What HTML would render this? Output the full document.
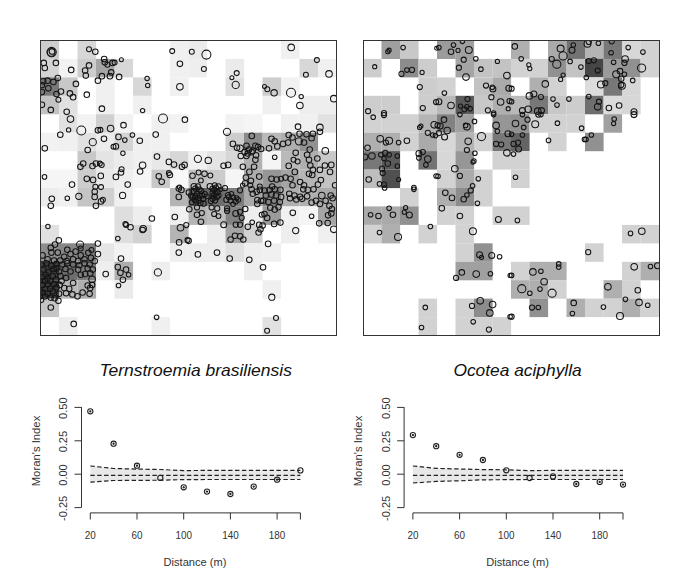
<!DOCTYPE html>
<html><head><meta charset="utf-8"><style>
html,body{margin:0;padding:0;background:#fff;width:700px;height:582px;overflow:hidden}
svg{display:block}
</style></head><body><svg width="700" height="582" viewBox="0 0 700 582"><defs><clipPath id="cl"><rect x="40.5" y="40.5" width="296" height="295"/></clipPath><clipPath id="cr"><rect x="363.5" y="40.5" width="296" height="295"/></clipPath></defs><rect width="700" height="582" fill="#fff"/><g><rect x="40.5" y="40.5" width="18.6" height="18.5" fill="rgb(205,205,205)"/><rect x="77.5" y="40.5" width="18.6" height="18.5" fill="rgb(215,215,215)"/><rect x="170" y="40.5" width="18.6" height="18.5" fill="rgb(240,240,240)"/><rect x="188.5" y="40.5" width="18.6" height="18.5" fill="rgb(235,235,235)"/><rect x="281" y="40.5" width="18.6" height="18.5" fill="rgb(240,240,240)"/><rect x="40.5" y="58.9" width="18.6" height="18.5" fill="rgb(212,212,212)"/><rect x="59" y="58.9" width="18.6" height="18.5" fill="rgb(242,242,242)"/><rect x="77.5" y="58.9" width="18.6" height="18.5" fill="rgb(205,205,205)"/><rect x="96" y="58.9" width="18.6" height="18.5" fill="rgb(165,165,165)"/><rect x="114.5" y="58.9" width="18.6" height="18.5" fill="rgb(215,215,215)"/><rect x="170" y="58.9" width="18.6" height="18.5" fill="rgb(240,240,240)"/><rect x="188.5" y="58.9" width="18.6" height="18.5" fill="rgb(238,238,238)"/><rect x="225.5" y="58.9" width="18.6" height="18.5" fill="rgb(235,235,235)"/><rect x="299.5" y="58.9" width="18.6" height="18.5" fill="rgb(215,215,215)"/><rect x="318" y="58.9" width="18.6" height="18.5" fill="rgb(240,240,240)"/><rect x="40.5" y="77.4" width="18.6" height="18.5" fill="rgb(120,120,120)"/><rect x="59" y="77.4" width="18.6" height="18.5" fill="rgb(200,200,200)"/><rect x="96" y="77.4" width="18.6" height="18.5" fill="rgb(240,240,240)"/><rect x="133" y="77.4" width="18.6" height="18.5" fill="rgb(215,215,215)"/><rect x="170" y="77.4" width="18.6" height="18.5" fill="rgb(240,240,240)"/><rect x="225.5" y="77.4" width="18.6" height="18.5" fill="rgb(225,225,225)"/><rect x="262.5" y="77.4" width="18.6" height="18.5" fill="rgb(205,205,205)"/><rect x="281" y="77.4" width="18.6" height="18.5" fill="rgb(242,242,242)"/><rect x="40.5" y="95.8" width="18.6" height="18.5" fill="rgb(195,195,195)"/><rect x="59" y="95.8" width="18.6" height="18.5" fill="rgb(225,225,225)"/><rect x="96" y="95.8" width="18.6" height="18.5" fill="rgb(240,240,240)"/><rect x="133" y="95.8" width="18.6" height="18.5" fill="rgb(240,240,240)"/><rect x="262.5" y="95.8" width="18.6" height="18.5" fill="rgb(240,240,240)"/><rect x="299.5" y="95.8" width="18.6" height="18.5" fill="rgb(238,238,238)"/><rect x="318" y="95.8" width="18.6" height="18.5" fill="rgb(238,238,238)"/><rect x="59" y="114.2" width="18.6" height="18.5" fill="rgb(225,225,225)"/><rect x="77.5" y="114.2" width="18.6" height="18.5" fill="rgb(242,242,242)"/><rect x="96" y="114.2" width="18.6" height="18.5" fill="rgb(208,208,208)"/><rect x="114.5" y="114.2" width="18.6" height="18.5" fill="rgb(242,242,242)"/><rect x="151.5" y="114.2" width="18.6" height="18.5" fill="rgb(240,240,240)"/><rect x="170" y="114.2" width="18.6" height="18.5" fill="rgb(242,242,242)"/><rect x="225.5" y="114.2" width="18.6" height="18.5" fill="rgb(242,242,242)"/><rect x="244" y="114.2" width="18.6" height="18.5" fill="rgb(245,245,245)"/><rect x="281" y="114.2" width="18.6" height="18.5" fill="rgb(240,240,240)"/><rect x="299.5" y="114.2" width="18.6" height="18.5" fill="rgb(240,240,240)"/><rect x="318" y="114.2" width="18.6" height="18.5" fill="rgb(225,225,225)"/><rect x="40.5" y="132.7" width="18.6" height="18.5" fill="rgb(242,242,242)"/><rect x="59" y="132.7" width="18.6" height="18.5" fill="rgb(240,240,240)"/><rect x="77.5" y="132.7" width="18.6" height="18.5" fill="rgb(225,225,225)"/><rect x="96" y="132.7" width="18.6" height="18.5" fill="rgb(236,236,236)"/><rect x="114.5" y="132.7" width="18.6" height="18.5" fill="rgb(212,212,212)"/><rect x="133" y="132.7" width="18.6" height="18.5" fill="rgb(240,240,240)"/><rect x="151.5" y="132.7" width="18.6" height="18.5" fill="rgb(240,240,240)"/><rect x="225.5" y="132.7" width="18.6" height="18.5" fill="rgb(205,205,205)"/><rect x="244" y="132.7" width="18.6" height="18.5" fill="rgb(140,140,140)"/><rect x="262.5" y="132.7" width="18.6" height="18.5" fill="rgb(185,185,185)"/><rect x="281" y="132.7" width="18.6" height="18.5" fill="rgb(175,175,175)"/><rect x="299.5" y="132.7" width="18.6" height="18.5" fill="rgb(145,145,145)"/><rect x="77.5" y="151.1" width="18.6" height="18.5" fill="rgb(200,200,200)"/><rect x="96" y="151.1" width="18.6" height="18.5" fill="rgb(228,228,228)"/><rect x="114.5" y="151.1" width="18.6" height="18.5" fill="rgb(235,235,235)"/><rect x="133" y="151.1" width="18.6" height="18.5" fill="rgb(240,240,240)"/><rect x="151.5" y="151.1" width="18.6" height="18.5" fill="rgb(232,232,232)"/><rect x="170" y="151.1" width="18.6" height="18.5" fill="rgb(215,215,215)"/><rect x="188.5" y="151.1" width="18.6" height="18.5" fill="rgb(240,240,240)"/><rect x="207" y="151.1" width="18.6" height="18.5" fill="rgb(228,228,228)"/><rect x="225.5" y="151.1" width="18.6" height="18.5" fill="rgb(215,215,215)"/><rect x="244" y="151.1" width="18.6" height="18.5" fill="rgb(178,178,178)"/><rect x="262.5" y="151.1" width="18.6" height="18.5" fill="rgb(245,245,245)"/><rect x="281" y="151.1" width="18.6" height="18.5" fill="rgb(185,185,185)"/><rect x="299.5" y="151.1" width="18.6" height="18.5" fill="rgb(175,175,175)"/><rect x="318" y="151.1" width="18.6" height="18.5" fill="rgb(200,200,200)"/><rect x="40.5" y="169.6" width="18.6" height="18.5" fill="rgb(245,245,245)"/><rect x="59" y="169.6" width="18.6" height="18.5" fill="rgb(245,245,245)"/><rect x="77.5" y="169.6" width="18.6" height="18.5" fill="rgb(205,205,205)"/><rect x="96" y="169.6" width="18.6" height="18.5" fill="rgb(232,232,232)"/><rect x="114.5" y="169.6" width="18.6" height="18.5" fill="rgb(238,238,238)"/><rect x="133" y="169.6" width="18.6" height="18.5" fill="rgb(245,245,245)"/><rect x="151.5" y="169.6" width="18.6" height="18.5" fill="rgb(200,200,200)"/><rect x="170" y="169.6" width="18.6" height="18.5" fill="rgb(248,248,248)"/><rect x="188.5" y="169.6" width="18.6" height="18.5" fill="rgb(192,192,192)"/><rect x="207" y="169.6" width="18.6" height="18.5" fill="rgb(203,203,203)"/><rect x="225.5" y="169.6" width="18.6" height="18.5" fill="rgb(245,245,245)"/><rect x="244" y="169.6" width="18.6" height="18.5" fill="rgb(172,172,172)"/><rect x="262.5" y="169.6" width="18.6" height="18.5" fill="rgb(150,150,150)"/><rect x="281" y="169.6" width="18.6" height="18.5" fill="rgb(165,165,165)"/><rect x="299.5" y="169.6" width="18.6" height="18.5" fill="rgb(182,182,182)"/><rect x="318" y="169.6" width="18.6" height="18.5" fill="rgb(195,195,195)"/><rect x="40.5" y="188" width="18.6" height="18.5" fill="rgb(236,236,236)"/><rect x="59" y="188" width="18.6" height="18.5" fill="rgb(240,240,240)"/><rect x="77.5" y="188" width="18.6" height="18.5" fill="rgb(197,197,197)"/><rect x="96" y="188" width="18.6" height="18.5" fill="rgb(207,207,207)"/><rect x="114.5" y="188" width="18.6" height="18.5" fill="rgb(240,240,240)"/><rect x="170" y="188" width="18.6" height="18.5" fill="rgb(180,180,180)"/><rect x="188.5" y="188" width="18.6" height="18.5" fill="rgb(100,100,100)"/><rect x="207" y="188" width="18.6" height="18.5" fill="rgb(110,110,110)"/><rect x="225.5" y="188" width="18.6" height="18.5" fill="rgb(125,125,125)"/><rect x="244" y="188" width="18.6" height="18.5" fill="rgb(170,170,170)"/><rect x="262.5" y="188" width="18.6" height="18.5" fill="rgb(130,130,130)"/><rect x="281" y="188" width="18.6" height="18.5" fill="rgb(175,175,175)"/><rect x="299.5" y="188" width="18.6" height="18.5" fill="rgb(177,177,177)"/><rect x="318" y="188" width="18.6" height="18.5" fill="rgb(170,170,170)"/><rect x="114.5" y="206.4" width="18.6" height="18.5" fill="rgb(222,222,222)"/><rect x="133" y="206.4" width="18.6" height="18.5" fill="rgb(238,238,238)"/><rect x="170" y="206.4" width="18.6" height="18.5" fill="rgb(240,240,240)"/><rect x="188.5" y="206.4" width="18.6" height="18.5" fill="rgb(180,180,180)"/><rect x="207" y="206.4" width="18.6" height="18.5" fill="rgb(190,190,190)"/><rect x="225.5" y="206.4" width="18.6" height="18.5" fill="rgb(130,130,130)"/><rect x="244" y="206.4" width="18.6" height="18.5" fill="rgb(238,238,238)"/><rect x="262.5" y="206.4" width="18.6" height="18.5" fill="rgb(155,155,155)"/><rect x="281" y="206.4" width="18.6" height="18.5" fill="rgb(240,240,240)"/><rect x="299.5" y="206.4" width="18.6" height="18.5" fill="rgb(245,245,245)"/><rect x="318" y="206.4" width="18.6" height="18.5" fill="rgb(165,165,165)"/><rect x="40.5" y="224.9" width="18.6" height="18.5" fill="rgb(225,225,225)"/><rect x="114.5" y="224.9" width="18.6" height="18.5" fill="rgb(222,222,222)"/><rect x="133" y="224.9" width="18.6" height="18.5" fill="rgb(210,210,210)"/><rect x="170" y="224.9" width="18.6" height="18.5" fill="rgb(180,180,180)"/><rect x="207" y="224.9" width="18.6" height="18.5" fill="rgb(238,238,238)"/><rect x="225.5" y="224.9" width="18.6" height="18.5" fill="rgb(165,165,165)"/><rect x="244" y="224.9" width="18.6" height="18.5" fill="rgb(210,210,210)"/><rect x="281" y="224.9" width="18.6" height="18.5" fill="rgb(238,238,238)"/><rect x="318" y="224.9" width="18.6" height="18.5" fill="rgb(240,240,240)"/><rect x="40.5" y="243.3" width="18.6" height="18.5" fill="rgb(140,140,140)"/><rect x="59" y="243.3" width="18.6" height="18.5" fill="rgb(135,135,135)"/><rect x="77.5" y="243.3" width="18.6" height="18.5" fill="rgb(125,125,125)"/><rect x="96" y="243.3" width="18.6" height="18.5" fill="rgb(230,230,230)"/><rect x="114.5" y="243.3" width="18.6" height="18.5" fill="rgb(242,242,242)"/><rect x="170" y="243.3" width="18.6" height="18.5" fill="rgb(238,238,238)"/><rect x="188.5" y="243.3" width="18.6" height="18.5" fill="rgb(238,238,238)"/><rect x="207" y="243.3" width="18.6" height="18.5" fill="rgb(238,238,238)"/><rect x="225.5" y="243.3" width="18.6" height="18.5" fill="rgb(225,225,225)"/><rect x="244" y="243.3" width="18.6" height="18.5" fill="rgb(238,238,238)"/><rect x="262.5" y="243.3" width="18.6" height="18.5" fill="rgb(240,240,240)"/><rect x="40.5" y="261.8" width="18.6" height="18.5" fill="rgb(60,60,60)"/><rect x="59" y="261.8" width="18.6" height="18.5" fill="rgb(110,110,110)"/><rect x="77.5" y="261.8" width="18.6" height="18.5" fill="rgb(125,125,125)"/><rect x="96" y="261.8" width="18.6" height="18.5" fill="rgb(238,238,238)"/><rect x="114.5" y="261.8" width="18.6" height="18.5" fill="rgb(175,175,175)"/><rect x="151.5" y="261.8" width="18.6" height="18.5" fill="rgb(238,238,238)"/><rect x="244" y="261.8" width="18.6" height="18.5" fill="rgb(238,238,238)"/><rect x="40.5" y="280.2" width="18.6" height="18.5" fill="rgb(60,60,60)"/><rect x="59" y="280.2" width="18.6" height="18.5" fill="rgb(185,185,185)"/><rect x="77.5" y="280.2" width="18.6" height="18.5" fill="rgb(175,175,175)"/><rect x="114.5" y="280.2" width="18.6" height="18.5" fill="rgb(235,235,235)"/><rect x="262.5" y="280.2" width="18.6" height="18.5" fill="rgb(240,240,240)"/><rect x="40.5" y="298.6" width="18.6" height="18.5" fill="rgb(197,197,197)"/><rect x="59" y="317.1" width="18.6" height="18.5" fill="rgb(238,238,238)"/><rect x="151.5" y="317.1" width="18.6" height="18.5" fill="rgb(240,240,240)"/><rect x="262.5" y="317.1" width="18.6" height="18.5" fill="rgb(225,225,225)"/></g><g clip-path="url(#cl)" fill="none" stroke="#151515" stroke-width="1.05"><circle cx="51.6" cy="52.1" r="4.7"/><circle cx="51.2" cy="52.5" r="3.7"/><circle cx="52.1" cy="51.4" r="2.9"/><circle cx="43.8" cy="62.9" r="2.8"/><circle cx="44.8" cy="68" r="2.8"/><circle cx="55.9" cy="62.9" r="2.8"/><circle cx="71.2" cy="69.9" r="2.8"/><circle cx="89" cy="49.3" r="2.5"/><circle cx="95.3" cy="51.7" r="2.8"/><circle cx="104.2" cy="59.1" r="2.8"/><circle cx="104.8" cy="62.3" r="2.8"/><circle cx="107.4" cy="64.8" r="2.5"/><circle cx="112.5" cy="62.9" r="2.8"/><circle cx="85.1" cy="70.5" r="2.8"/><circle cx="89" cy="65.4" r="2.8"/><circle cx="85.8" cy="75.6" r="2.8"/><circle cx="101.9" cy="76.2" r="2.8"/><circle cx="97.9" cy="80.7" r="2.8"/><circle cx="109.9" cy="76.2" r="2.8"/><circle cx="111.2" cy="72.4" r="2.8"/><circle cx="43.2" cy="81.3" r="2.8"/><circle cx="47.6" cy="80.7" r="2.8"/><circle cx="53.4" cy="82" r="2.8"/><circle cx="57.8" cy="78.1" r="2.8"/><circle cx="41.9" cy="85.1" r="2.8"/><circle cx="48.3" cy="88.3" r="2.8"/><circle cx="41.9" cy="92.1" r="2.8"/><circle cx="56.5" cy="94" r="2.8"/><circle cx="61" cy="91.5" r="2.8"/><circle cx="75.9" cy="83.9" r="2.8"/><circle cx="69.9" cy="93.4" r="2.8"/><circle cx="73.1" cy="97.2" r="2.8"/><circle cx="58.4" cy="99.8" r="2.5"/><circle cx="86.8" cy="94.7" r="2.8"/><circle cx="41.9" cy="104.8" r="2.8"/><circle cx="50.8" cy="109.9" r="2.8"/><circle cx="66.7" cy="111.8" r="2.8"/><circle cx="101.9" cy="108.7" r="2.8"/><circle cx="172.2" cy="51.1" r="2.5"/><circle cx="179.9" cy="63.8" r="2.8"/><circle cx="179.9" cy="86.8" r="3.3"/><circle cx="121.4" cy="59.7" r="2"/><circle cx="114.6" cy="62.6" r="2.5"/><circle cx="119.1" cy="76.9" r="2.8"/><circle cx="147.1" cy="78.4" r="2.2"/><circle cx="147.7" cy="85.4" r="2.2"/><circle cx="142.6" cy="110.6" r="2.2"/><circle cx="191.8" cy="51.8" r="2.5"/><circle cx="206.4" cy="54.6" r="4.5"/><circle cx="203.9" cy="69" r="2.5"/><circle cx="236.7" cy="73.1" r="2.5"/><circle cx="231.9" cy="77.8" r="2"/><circle cx="235.7" cy="84.9" r="3.6"/><circle cx="291.2" cy="47.4" r="3.3"/><circle cx="316.9" cy="60.1" r="2.5"/><circle cx="305.9" cy="74.7" r="2.5"/><circle cx="329" cy="73.9" r="3.3"/><circle cx="264.5" cy="86.4" r="2"/><circle cx="267.3" cy="89.2" r="2.5"/><circle cx="274.1" cy="92.8" r="3.2"/><circle cx="291" cy="92.8" r="4.5"/><circle cx="301.2" cy="96.6" r="2.2"/><circle cx="299.9" cy="105.5" r="3.3"/><circle cx="333.8" cy="98.7" r="3.3"/><circle cx="70.5" cy="119.1" r="3.3"/><circle cx="68.6" cy="129.9" r="2.2"/><circle cx="81.3" cy="130.5" r="4.5"/><circle cx="60.3" cy="134.7" r="2.8"/><circle cx="97.9" cy="130.3" r="2.8"/><circle cx="100.4" cy="129.9" r="2.5"/><circle cx="110.6" cy="128.6" r="3.3"/><circle cx="104" cy="138.8" r="2.8"/><circle cx="92.8" cy="142.2" r="3.6"/><circle cx="44.8" cy="148.3" r="2.8"/><circle cx="87.7" cy="150" r="2.8"/><circle cx="113.5" cy="146.8" r="2.5"/><circle cx="80.4" cy="166.8" r="2.8"/><circle cx="83.2" cy="163.6" r="2.8"/><circle cx="92.5" cy="166.1" r="2.8"/><circle cx="95.9" cy="163.6" r="2.8"/><circle cx="99.8" cy="163.6" r="2.5"/><circle cx="101.7" cy="164.9" r="2.5"/><circle cx="44.5" cy="176.9" r="2.3"/><circle cx="86.8" cy="178.8" r="2.8"/><circle cx="93.1" cy="179.9" r="2.8"/><circle cx="100.8" cy="175.9" r="2.8"/><circle cx="72" cy="184.6" r="2.8"/><circle cx="95.3" cy="186.7" r="2.5"/><circle cx="101" cy="187.1" r="2.5"/><circle cx="123.5" cy="125.2" r="2.8"/><circle cx="163" cy="118.5" r="4.5"/><circle cx="184.9" cy="119.7" r="2.8"/><circle cx="118.5" cy="136.9" r="2.8"/><circle cx="132.4" cy="135" r="2.3"/><circle cx="124.8" cy="140.1" r="2.3"/><circle cx="139.8" cy="140.7" r="2.8"/><circle cx="155.7" cy="134.6" r="2.8"/><circle cx="115.9" cy="146.4" r="2.8"/><circle cx="122.9" cy="153.2" r="2.2"/><circle cx="157" cy="156.6" r="2.8"/><circle cx="142.6" cy="165.2" r="3.3"/><circle cx="140.1" cy="171.5" r="2.8"/><circle cx="121.6" cy="169.3" r="2.5"/><circle cx="121" cy="172.5" r="2.8"/><circle cx="115.9" cy="176.9" r="2.8"/><circle cx="127.7" cy="184.6" r="2.8"/><circle cx="168.9" cy="161.9" r="2.8"/><circle cx="174" cy="164.6" r="2.8"/><circle cx="182" cy="166.8" r="2.8"/><circle cx="184.6" cy="164.9" r="2.8"/><circle cx="168.9" cy="173.1" r="2.5"/><circle cx="169.9" cy="175" r="2.8"/><circle cx="158.8" cy="176.3" r="2.8"/><circle cx="161.7" cy="181.8" r="2.8"/><circle cx="179.5" cy="187.1" r="2.2"/><circle cx="227" cy="131.8" r="3.6"/><circle cx="251.8" cy="135.9" r="2.8"/><circle cx="232.9" cy="143.9" r="2.8"/><circle cx="240.1" cy="148.3" r="3.3"/><circle cx="237" cy="147.7" r="2.8"/><circle cx="246.5" cy="145.8" r="2.8"/><circle cx="249" cy="149.6" r="2.8"/><circle cx="252.8" cy="150.9" r="2.8"/><circle cx="255.4" cy="145.8" r="2.8"/><circle cx="257.9" cy="147.1" r="2.8"/><circle cx="261.1" cy="149" r="2.8"/><circle cx="244.6" cy="152.1" r="2.8"/><circle cx="247.8" cy="153.4" r="2.8"/><circle cx="251.6" cy="152.1" r="2.8"/><circle cx="240.8" cy="156" r="2.8"/><circle cx="246.5" cy="156" r="2.8"/><circle cx="256" cy="155.3" r="2.8"/><circle cx="255.4" cy="159.8" r="2.8"/><circle cx="197.9" cy="158.8" r="3.6"/><circle cx="208.3" cy="160.4" r="3.2"/><circle cx="223.6" cy="165.7" r="2.8"/><circle cx="228.1" cy="164.9" r="2.8"/><circle cx="242.9" cy="166.8" r="2.8"/><circle cx="254.1" cy="166.8" r="2.8"/><circle cx="249.4" cy="171.9" r="2.8"/><circle cx="192.5" cy="175.7" r="2.8"/><circle cx="198.6" cy="172.5" r="2.5"/><circle cx="204.5" cy="173.8" r="2.8"/><circle cx="210.3" cy="175.4" r="2.5"/><circle cx="245.9" cy="177.6" r="2.8"/><circle cx="259.2" cy="176.6" r="2.8"/><circle cx="250.9" cy="180.8" r="2.8"/><circle cx="245.2" cy="183.3" r="2.8"/><circle cx="250.3" cy="185.2" r="2.5"/><circle cx="259.8" cy="186.5" r="2.5"/><circle cx="298" cy="126.7" r="2.8"/><circle cx="319.9" cy="127.4" r="3.3"/><circle cx="319.9" cy="131.8" r="2.8"/><circle cx="299.5" cy="133.7" r="2.8"/><circle cx="306.5" cy="134.3" r="2.8"/><circle cx="312.9" cy="133.7" r="2.8"/><circle cx="311.6" cy="138.2" r="2.8"/><circle cx="288.7" cy="135" r="2.8"/><circle cx="292.5" cy="137.5" r="2.8"/><circle cx="271.5" cy="138.8" r="2.8"/><circle cx="274.7" cy="141.3" r="2.8"/><circle cx="283" cy="143.9" r="2.8"/><circle cx="288.1" cy="142.6" r="2.8"/><circle cx="298.9" cy="141.3" r="3.6"/><circle cx="304" cy="142.6" r="2.8"/><circle cx="277.3" cy="146.4" r="2.8"/><circle cx="269" cy="148.3" r="2.8"/><circle cx="309.7" cy="149.6" r="2.8"/><circle cx="325.3" cy="150.9" r="3.3"/><circle cx="295.7" cy="152.8" r="2.8"/><circle cx="307.1" cy="154.7" r="2.8"/><circle cx="274.7" cy="157.2" r="2.3"/><circle cx="317.3" cy="158.5" r="2.8"/><circle cx="293.5" cy="159.8" r="2.5"/><circle cx="297.6" cy="161.4" r="2.5"/><circle cx="309" cy="159.8" r="2.8"/><circle cx="288.7" cy="165.9" r="2.8"/><circle cx="310.3" cy="165.5" r="2.8"/><circle cx="312.9" cy="169.9" r="2.8"/><circle cx="319.9" cy="169.9" r="2.8"/><circle cx="324.9" cy="165.5" r="2.8"/><circle cx="331.3" cy="164.9" r="2.8"/><circle cx="330" cy="171.9" r="2.8"/><circle cx="294.8" cy="171.9" r="2.8"/><circle cx="309" cy="173.8" r="2.8"/><circle cx="312.2" cy="175" r="2.8"/><circle cx="271.5" cy="178.8" r="2.8"/><circle cx="276.6" cy="179.5" r="2.8"/><circle cx="281.1" cy="178.8" r="2.5"/><circle cx="285.5" cy="177.6" r="2.8"/><circle cx="290.6" cy="178.8" r="2.8"/><circle cx="320.9" cy="180.1" r="2.8"/><circle cx="300.1" cy="182" r="2.8"/><circle cx="317.9" cy="184.6" r="2.8"/><circle cx="272.2" cy="186.5" r="2.8"/><circle cx="292.5" cy="185.2" r="2.8"/><circle cx="304" cy="185.2" r="2.8"/><circle cx="335.1" cy="185.2" r="2.8"/><circle cx="51.8" cy="198.8" r="2.8"/><circle cx="50.8" cy="205.8" r="2.8"/><circle cx="67.3" cy="198.2" r="2.3"/><circle cx="78.8" cy="196.3" r="3.1"/><circle cx="94.7" cy="191.8" r="2.8"/><circle cx="94.7" cy="196.9" r="2.8"/><circle cx="101" cy="201.4" r="2.8"/><circle cx="102.9" cy="199.7" r="2.5"/><circle cx="95.9" cy="205.8" r="2.8"/><circle cx="47.9" cy="226.5" r="2.2"/><circle cx="58.8" cy="240.4" r="2.8"/><circle cx="55" cy="244.6" r="2.8"/><circle cx="50.8" cy="247.8" r="2.8"/><circle cx="80.1" cy="244.6" r="3.6"/><circle cx="80.7" cy="248.4" r="2.5"/><circle cx="97.9" cy="243.6" r="2.8"/><circle cx="97.9" cy="254.1" r="2.8"/><circle cx="91.5" cy="249.9" r="2.5"/><circle cx="42.5" cy="255.4" r="2.8"/><circle cx="51.4" cy="252.6" r="2.8"/><circle cx="57.8" cy="252.6" r="2.8"/><circle cx="67.3" cy="249.7" r="2.8"/><circle cx="64.2" cy="256.7" r="2.8"/><circle cx="70.5" cy="254.1" r="2.8"/><circle cx="75.6" cy="251.6" r="2.8"/><circle cx="73.1" cy="259.2" r="2.8"/><circle cx="80.7" cy="255.4" r="2.8"/><circle cx="84.5" cy="259.2" r="2.8"/><circle cx="88.3" cy="252.8" r="2.8"/><circle cx="90.9" cy="257.9" r="2.8"/><circle cx="94.7" cy="261.1" r="2.8"/><circle cx="47.6" cy="259.2" r="2.8"/><circle cx="54" cy="260.5" r="2.8"/><circle cx="60.3" cy="260.5" r="2.8"/><circle cx="66.7" cy="261.1" r="2.8"/><circle cx="78.1" cy="261.1" r="2.8"/><circle cx="122.6" cy="195.4" r="3.1"/><circle cx="178.8" cy="196.9" r="2.8"/><circle cx="181.4" cy="189.9" r="2.8"/><circle cx="178.8" cy="188.6" r="2.8"/><circle cx="151.9" cy="218.5" r="2.8"/><circle cx="174.8" cy="217" r="2.8"/><circle cx="125.4" cy="223.9" r="2.5"/><circle cx="126.1" cy="224.9" r="2.5"/><circle cx="130.5" cy="227.2" r="2.8"/><circle cx="143.2" cy="228.7" r="3.3"/><circle cx="142.6" cy="230" r="2.8"/><circle cx="117.8" cy="238.5" r="2.3"/><circle cx="180.5" cy="227.7" r="3.3"/><circle cx="179.1" cy="242.4" r="2.8"/><circle cx="187.5" cy="240.1" r="2.5"/><circle cx="178.8" cy="252.6" r="2.8"/><circle cx="121" cy="258.6" r="2.8"/><circle cx="251.6" cy="189.3" r="2.8"/><circle cx="252.8" cy="193.7" r="2.8"/><circle cx="256.7" cy="191.8" r="2.8"/><circle cx="259.8" cy="189.9" r="2.8"/><circle cx="257.3" cy="200.1" r="2.8"/><circle cx="257.3" cy="203.9" r="2.8"/><circle cx="261.1" cy="200.7" r="2.8"/><circle cx="245.2" cy="209" r="2.8"/><circle cx="252.2" cy="222.3" r="2.3"/><circle cx="247.8" cy="226.8" r="2.8"/><circle cx="259.2" cy="224.9" r="2.8"/><circle cx="260.5" cy="229.3" r="2.8"/><circle cx="258.6" cy="232.5" r="2.8"/><circle cx="230.6" cy="239.5" r="2.8"/><circle cx="235" cy="235.7" r="2.8"/><circle cx="240.1" cy="236.3" r="2.8"/><circle cx="243.3" cy="239.5" r="2.8"/><circle cx="188.6" cy="240.8" r="2.8"/><circle cx="197.9" cy="254.4" r="2.8"/><circle cx="217" cy="252.6" r="2.8"/><circle cx="229.7" cy="258.6" r="2.8"/><circle cx="249.3" cy="259.8" r="2.8"/><circle cx="261.7" cy="214.7" r="2.5"/><circle cx="264.5" cy="190.5" r="2.8"/><circle cx="269.6" cy="189.9" r="2.8"/><circle cx="274.7" cy="189.3" r="2.8"/><circle cx="280.4" cy="189.9" r="2.8"/><circle cx="265.8" cy="195.6" r="2.8"/><circle cx="271.5" cy="194.4" r="2.8"/><circle cx="276" cy="195.6" r="2.8"/><circle cx="281.1" cy="196.9" r="2.8"/><circle cx="263.3" cy="200.7" r="2.8"/><circle cx="268.4" cy="202" r="2.8"/><circle cx="274.1" cy="200.7" r="2.8"/><circle cx="279.8" cy="202" r="2.8"/><circle cx="270.3" cy="207.7" r="2.8"/><circle cx="274.7" cy="209.6" r="2.8"/><circle cx="278.5" cy="207.1" r="2.8"/><circle cx="264.5" cy="214.1" r="2.8"/><circle cx="267.1" cy="217.9" r="2.8"/><circle cx="274.1" cy="223.9" r="2.8"/><circle cx="280.4" cy="222.6" r="2.8"/><circle cx="262.6" cy="225.5" r="2.8"/><circle cx="289.3" cy="193.7" r="2.8"/><circle cx="294.4" cy="195.6" r="2.8"/><circle cx="296.3" cy="199.4" r="2.8"/><circle cx="300.1" cy="196.9" r="2.8"/><circle cx="302.1" cy="198.8" r="2.8"/><circle cx="307.1" cy="196.3" r="2.8"/><circle cx="290" cy="198.2" r="2.8"/><circle cx="303.3" cy="189.3" r="2.8"/><circle cx="307.8" cy="189.9" r="2.8"/><circle cx="313.5" cy="189.3" r="2.8"/><circle cx="321.8" cy="195.6" r="3.3"/><circle cx="325.6" cy="200.7" r="2.8"/><circle cx="330.7" cy="195.6" r="2.8"/><circle cx="332.6" cy="198.2" r="2.8"/><circle cx="311.6" cy="202.6" r="2.8"/><circle cx="316" cy="200.7" r="2.8"/><circle cx="319.9" cy="203.9" r="2.8"/><circle cx="329.4" cy="205.8" r="2.8"/><circle cx="331.9" cy="209" r="2.8"/><circle cx="328.1" cy="215.3" r="2.8"/><circle cx="331.3" cy="213.4" r="2.8"/><circle cx="319.2" cy="223.3" r="2.8"/><circle cx="327.7" cy="223" r="2.8"/><circle cx="333.8" cy="229.3" r="3.3"/><circle cx="292.8" cy="212.8" r="2.8"/><circle cx="311.6" cy="216.2" r="2.3"/><circle cx="295.7" cy="230.6" r="3.1"/><circle cx="268.1" cy="243.9" r="2.8"/><circle cx="45.1" cy="281.1" r="2.8"/><circle cx="50.2" cy="281.1" r="2.8"/><circle cx="55.9" cy="279.8" r="2.8"/><circle cx="45.1" cy="288.7" r="2.8"/><circle cx="50.2" cy="288.7" r="2.8"/><circle cx="56.5" cy="287.4" r="2.8"/><circle cx="45.1" cy="296.3" r="2.8"/><circle cx="50.8" cy="297.6" r="2.8"/><circle cx="41.3" cy="300.1" r="2.5"/><circle cx="40" cy="281.1" r="2.8"/><circle cx="40" cy="290" r="2.8"/><circle cx="40" cy="296.3" r="2.8"/><circle cx="45.7" cy="274.7" r="2.8"/><circle cx="56.5" cy="268.4" r="2.8"/><circle cx="61.6" cy="281.1" r="2.8"/><circle cx="59.1" cy="293.8" r="2.8"/><circle cx="41.9" cy="264.5" r="2.8"/><circle cx="46.4" cy="263.3" r="2.8"/><circle cx="51.4" cy="265.8" r="2.8"/><circle cx="56.5" cy="263.9" r="2.8"/><circle cx="62.3" cy="264.5" r="2.8"/><circle cx="67.3" cy="263.3" r="2.8"/><circle cx="73.1" cy="264.5" r="2.8"/><circle cx="79.4" cy="265.2" r="2.8"/><circle cx="84.5" cy="263.3" r="2.8"/><circle cx="89.6" cy="264.5" r="2.8"/><circle cx="43.2" cy="269.6" r="2.8"/><circle cx="48.3" cy="272.2" r="2.8"/><circle cx="53.4" cy="269" r="2.8"/><circle cx="59.1" cy="271.5" r="2.8"/><circle cx="65.4" cy="269" r="2.8"/><circle cx="70.5" cy="271.5" r="2.8"/><circle cx="78.1" cy="269.6" r="2.8"/><circle cx="80.7" cy="274.7" r="2.8"/><circle cx="87.7" cy="268.4" r="2.8"/><circle cx="92.8" cy="269.6" r="2.8"/><circle cx="85.1" cy="274.1" r="2.8"/><circle cx="90.2" cy="273.4" r="2.8"/><circle cx="92.1" cy="279.2" r="3.3"/><circle cx="42.5" cy="277.3" r="2.8"/><circle cx="47.6" cy="278.5" r="2.8"/><circle cx="52.7" cy="276" r="2.8"/><circle cx="60.3" cy="276" r="2.8"/><circle cx="66.1" cy="277.9" r="2.8"/><circle cx="73.1" cy="283" r="2.8"/><circle cx="42.5" cy="284.9" r="2.8"/><circle cx="47.6" cy="284.3" r="2.8"/><circle cx="54" cy="284.3" r="2.8"/><circle cx="59.7" cy="284.9" r="2.8"/><circle cx="64.2" cy="288.1" r="2.8"/><circle cx="69.2" cy="288.7" r="2.8"/><circle cx="66.1" cy="293.2" r="2.8"/><circle cx="72.4" cy="294.4" r="2.8"/><circle cx="77.5" cy="296.3" r="2.8"/><circle cx="82.6" cy="292.5" r="2.8"/><circle cx="89.6" cy="293.8" r="2.8"/><circle cx="87.7" cy="285.5" r="2.8"/><circle cx="90.2" cy="288.1" r="2.8"/><circle cx="92.1" cy="284.9" r="2.8"/><circle cx="42.5" cy="292.5" r="2.8"/><circle cx="47.6" cy="293.8" r="2.8"/><circle cx="52.7" cy="291.2" r="2.8"/><circle cx="54.6" cy="298.2" r="2.8"/><circle cx="58.4" cy="300.8" r="2.8"/><circle cx="50.8" cy="307.5" r="2.8"/><circle cx="105.7" cy="274.1" r="2.8"/><circle cx="73.7" cy="323.9" r="2.8"/><circle cx="117.8" cy="267.1" r="2.8"/><circle cx="120.4" cy="272.8" r="2.8"/><circle cx="126.1" cy="269.6" r="2.8"/><circle cx="128.6" cy="274.7" r="2.3"/><circle cx="122.9" cy="279.8" r="2.8"/><circle cx="118.5" cy="285.5" r="2.3"/><circle cx="157.9" cy="272.4" r="3.6"/><circle cx="156.6" cy="317.3" r="2.3"/><circle cx="263" cy="267.3" r="2.8"/><circle cx="271.8" cy="297.2" r="3.1"/><circle cx="276" cy="317.9" r="2.5"/><circle cx="267.1" cy="330.7" r="2.5"/><circle cx="195.3" cy="188.6" r="2.6"/><circle cx="199.6" cy="189.5" r="2.6"/><circle cx="191" cy="195.5" r="2.6"/><circle cx="195.3" cy="196.3" r="2.6"/><circle cx="199.6" cy="195.5" r="2.6"/><circle cx="202.2" cy="195.5" r="2.6"/><circle cx="194.5" cy="199.8" r="2.6"/><circle cx="198.8" cy="200.6" r="2.6"/><circle cx="212.5" cy="188.6" r="2.6"/><circle cx="215.9" cy="187.7" r="2.6"/><circle cx="212.5" cy="192.9" r="2.6"/><circle cx="215.5" cy="193.8" r="2.6"/><circle cx="218.5" cy="195.5" r="2.6"/><circle cx="212.5" cy="198.9" r="2.6"/><circle cx="228.8" cy="197.2" r="2.4"/><circle cx="233.1" cy="197.2" r="2.4"/><circle cx="236.6" cy="198.1" r="2.4"/><circle cx="194" cy="186.4" r="3"/><circle cx="197.9" cy="186.4" r="2.6"/><circle cx="188.9" cy="192.5" r="2.8"/><circle cx="193.6" cy="191.2" r="2.8"/><circle cx="197" cy="193.8" r="2.6"/><circle cx="201.3" cy="191.2" r="2.6"/><circle cx="204.8" cy="194.2" r="2.6"/><circle cx="192.7" cy="197.2" r="2.6"/><circle cx="197.9" cy="198.1" r="2.8"/><circle cx="203.1" cy="198.9" r="2.6"/><circle cx="191.9" cy="202.3" r="2.6"/><circle cx="196.2" cy="201.5" r="2.6"/><circle cx="200.5" cy="203.2" r="2.6"/><circle cx="203.5" cy="203.6" r="2.8"/><circle cx="206.9" cy="196.3" r="2.4"/><circle cx="209.9" cy="186.4" r="2.8"/><circle cx="214.7" cy="185.2" r="2.4"/><circle cx="218.5" cy="186.4" r="2.6"/><circle cx="214.2" cy="190.3" r="2.6"/><circle cx="217.7" cy="192" r="2.6"/><circle cx="213.4" cy="195.5" r="2.6"/><circle cx="216.8" cy="197.2" r="2.6"/><circle cx="210.8" cy="201.1" r="2.6"/><circle cx="215.1" cy="200.6" r="2.6"/><circle cx="220.2" cy="189.5" r="2.1"/><circle cx="225" cy="188.2" r="2.6"/><circle cx="228" cy="195" r="2.6"/><circle cx="231.4" cy="193.8" r="2.4"/><circle cx="226.3" cy="199.8" r="2.6"/><circle cx="230.6" cy="200.6" r="2.6"/><circle cx="235.7" cy="201.5" r="2.6"/><circle cx="240" cy="190.3" r="2.6"/><circle cx="238.3" cy="199.8" r="2.4"/><circle cx="233.1" cy="204.1" r="2.4"/><circle cx="189.3" cy="209.2" r="2.8"/><circle cx="197" cy="207.5" r="2.6"/><circle cx="211.6" cy="207.5" r="2.6"/><circle cx="217.2" cy="208.4" r="2.6"/><circle cx="197" cy="214.8" r="2.8"/><circle cx="201.8" cy="213.1" r="2.6"/><circle cx="214.2" cy="214" r="2.6"/><circle cx="218.5" cy="216.1" r="2.4"/><circle cx="200.9" cy="221.7" r="2.8"/><circle cx="227.1" cy="208.4" r="2.6"/><circle cx="227.1" cy="210.9" r="2.6"/><circle cx="235.7" cy="213.5" r="3"/><circle cx="240" cy="211.8" r="2.6"/><circle cx="223.7" cy="224.7" r="3"/><circle cx="235.7" cy="224.7" r="2.6"/><circle cx="240" cy="224.7" r="2.6"/><circle cx="241.7" cy="217.8" r="2.6"/><circle cx="186.3" cy="225.1" r="2.6"/><circle cx="200.9" cy="180.4" r="2.4"/><circle cx="242.6" cy="185.2" r="2.1"/></g><rect x="40.5" y="40.5" width="296" height="295" fill="none" stroke="#333" stroke-width="1"/><g><rect x="381.5" y="40.5" width="18.6" height="18.5" fill="rgb(160,160,160)"/><rect x="400" y="40.5" width="18.6" height="18.5" fill="rgb(200,200,200)"/><rect x="437" y="40.5" width="18.6" height="18.5" fill="rgb(155,155,155)"/><rect x="455.5" y="40.5" width="18.6" height="18.5" fill="rgb(160,160,160)"/><rect x="511" y="40.5" width="18.6" height="18.5" fill="rgb(175,175,175)"/><rect x="548" y="40.5" width="18.6" height="18.5" fill="rgb(170,170,170)"/><rect x="566.5" y="40.5" width="18.6" height="18.5" fill="rgb(115,115,115)"/><rect x="585" y="40.5" width="18.6" height="18.5" fill="rgb(180,180,180)"/><rect x="603.5" y="40.5" width="18.6" height="18.5" fill="rgb(120,120,120)"/><rect x="622" y="40.5" width="18.6" height="18.5" fill="rgb(215,215,215)"/><rect x="640.5" y="40.5" width="18.6" height="18.5" fill="rgb(210,210,210)"/><rect x="363" y="58.9" width="18.6" height="18.5" fill="rgb(205,205,205)"/><rect x="400" y="58.9" width="18.6" height="18.5" fill="rgb(140,140,140)"/><rect x="418.5" y="58.9" width="18.6" height="18.5" fill="rgb(205,205,205)"/><rect x="455.5" y="58.9" width="18.6" height="18.5" fill="rgb(165,165,165)"/><rect x="474" y="58.9" width="18.6" height="18.5" fill="rgb(195,195,195)"/><rect x="492.5" y="58.9" width="18.6" height="18.5" fill="rgb(195,195,195)"/><rect x="511" y="58.9" width="18.6" height="18.5" fill="rgb(210,210,210)"/><rect x="529.5" y="58.9" width="18.6" height="18.5" fill="rgb(210,210,210)"/><rect x="548" y="58.9" width="18.6" height="18.5" fill="rgb(145,145,145)"/><rect x="566.5" y="58.9" width="18.6" height="18.5" fill="rgb(195,195,195)"/><rect x="585" y="58.9" width="18.6" height="18.5" fill="rgb(70,70,70)"/><rect x="603.5" y="58.9" width="18.6" height="18.5" fill="rgb(155,155,155)"/><rect x="622" y="58.9" width="18.6" height="18.5" fill="rgb(145,145,145)"/><rect x="640.5" y="58.9" width="18.6" height="18.5" fill="rgb(210,210,210)"/><rect x="418.5" y="77.4" width="18.6" height="18.5" fill="rgb(205,205,205)"/><rect x="437" y="77.4" width="18.6" height="18.5" fill="rgb(210,210,210)"/><rect x="474" y="77.4" width="18.6" height="18.5" fill="rgb(195,195,195)"/><rect x="492.5" y="77.4" width="18.6" height="18.5" fill="rgb(170,170,170)"/><rect x="529.5" y="77.4" width="18.6" height="18.5" fill="rgb(175,175,175)"/><rect x="548" y="77.4" width="18.6" height="18.5" fill="rgb(210,210,210)"/><rect x="585" y="77.4" width="18.6" height="18.5" fill="rgb(220,220,220)"/><rect x="603.5" y="77.4" width="18.6" height="18.5" fill="rgb(120,120,120)"/><rect x="622" y="77.4" width="18.6" height="18.5" fill="rgb(215,215,215)"/><rect x="363" y="95.8" width="18.6" height="18.5" fill="rgb(205,205,205)"/><rect x="381.5" y="95.8" width="18.6" height="18.5" fill="rgb(205,205,205)"/><rect x="418.5" y="95.8" width="18.6" height="18.5" fill="rgb(205,205,205)"/><rect x="437" y="95.8" width="18.6" height="18.5" fill="rgb(185,185,185)"/><rect x="455.5" y="95.8" width="18.6" height="18.5" fill="rgb(90,90,90)"/><rect x="474" y="95.8" width="18.6" height="18.5" fill="rgb(200,200,200)"/><rect x="492.5" y="95.8" width="18.6" height="18.5" fill="rgb(175,175,175)"/><rect x="511" y="95.8" width="18.6" height="18.5" fill="rgb(185,185,185)"/><rect x="529.5" y="95.8" width="18.6" height="18.5" fill="rgb(120,120,120)"/><rect x="548" y="95.8" width="18.6" height="18.5" fill="rgb(200,200,200)"/><rect x="566.5" y="95.8" width="18.6" height="18.5" fill="rgb(205,205,205)"/><rect x="585" y="95.8" width="18.6" height="18.5" fill="rgb(110,110,110)"/><rect x="603.5" y="95.8" width="18.6" height="18.5" fill="rgb(220,220,220)"/><rect x="622" y="95.8" width="18.6" height="18.5" fill="rgb(215,215,215)"/><rect x="363" y="114.2" width="18.6" height="18.5" fill="rgb(210,210,210)"/><rect x="381.5" y="114.2" width="18.6" height="18.5" fill="rgb(210,210,210)"/><rect x="400" y="114.2" width="18.6" height="18.5" fill="rgb(210,210,210)"/><rect x="418.5" y="114.2" width="18.6" height="18.5" fill="rgb(180,180,180)"/><rect x="437" y="114.2" width="18.6" height="18.5" fill="rgb(130,130,130)"/><rect x="455.5" y="114.2" width="18.6" height="18.5" fill="rgb(160,160,160)"/><rect x="492.5" y="114.2" width="18.6" height="18.5" fill="rgb(150,150,150)"/><rect x="511" y="114.2" width="18.6" height="18.5" fill="rgb(145,145,145)"/><rect x="529.5" y="114.2" width="18.6" height="18.5" fill="rgb(210,210,210)"/><rect x="548" y="114.2" width="18.6" height="18.5" fill="rgb(210,210,210)"/><rect x="566.5" y="114.2" width="18.6" height="18.5" fill="rgb(210,210,210)"/><rect x="603.5" y="114.2" width="18.6" height="18.5" fill="rgb(160,160,160)"/><rect x="363" y="132.7" width="18.6" height="18.5" fill="rgb(175,175,175)"/><rect x="381.5" y="132.7" width="18.6" height="18.5" fill="rgb(175,175,175)"/><rect x="400" y="132.7" width="18.6" height="18.5" fill="rgb(210,210,210)"/><rect x="418.5" y="132.7" width="18.6" height="18.5" fill="rgb(170,170,170)"/><rect x="437" y="132.7" width="18.6" height="18.5" fill="rgb(215,215,215)"/><rect x="455.5" y="132.7" width="18.6" height="18.5" fill="rgb(180,180,180)"/><rect x="474" y="132.7" width="18.6" height="18.5" fill="rgb(210,210,210)"/><rect x="492.5" y="132.7" width="18.6" height="18.5" fill="rgb(120,120,120)"/><rect x="511" y="132.7" width="18.6" height="18.5" fill="rgb(100,100,100)"/><rect x="548" y="132.7" width="18.6" height="18.5" fill="rgb(210,210,210)"/><rect x="585" y="132.7" width="18.6" height="18.5" fill="rgb(145,145,145)"/><rect x="363" y="151.1" width="18.6" height="18.5" fill="rgb(120,120,120)"/><rect x="381.5" y="151.1" width="18.6" height="18.5" fill="rgb(90,90,90)"/><rect x="418.5" y="151.1" width="18.6" height="18.5" fill="rgb(115,115,115)"/><rect x="437" y="151.1" width="18.6" height="18.5" fill="rgb(215,215,215)"/><rect x="455.5" y="151.1" width="18.6" height="18.5" fill="rgb(150,150,150)"/><rect x="492.5" y="151.1" width="18.6" height="18.5" fill="rgb(210,210,210)"/><rect x="511" y="151.1" width="18.6" height="18.5" fill="rgb(210,210,210)"/><rect x="363" y="169.6" width="18.6" height="18.5" fill="rgb(190,190,190)"/><rect x="381.5" y="169.6" width="18.6" height="18.5" fill="rgb(80,80,80)"/><rect x="437" y="169.6" width="18.6" height="18.5" fill="rgb(210,210,210)"/><rect x="455.5" y="169.6" width="18.6" height="18.5" fill="rgb(170,170,170)"/><rect x="474" y="169.6" width="18.6" height="18.5" fill="rgb(210,210,210)"/><rect x="511" y="169.6" width="18.6" height="18.5" fill="rgb(210,210,210)"/><rect x="400" y="188" width="18.6" height="18.5" fill="rgb(210,210,210)"/><rect x="437" y="188" width="18.6" height="18.5" fill="rgb(175,175,175)"/><rect x="455.5" y="188" width="18.6" height="18.5" fill="rgb(140,140,140)"/><rect x="474" y="188" width="18.6" height="18.5" fill="rgb(210,210,210)"/><rect x="363" y="206.4" width="18.6" height="18.5" fill="rgb(170,170,170)"/><rect x="381.5" y="206.4" width="18.6" height="18.5" fill="rgb(170,170,170)"/><rect x="400" y="206.4" width="18.6" height="18.5" fill="rgb(145,145,145)"/><rect x="437" y="206.4" width="18.6" height="18.5" fill="rgb(210,210,210)"/><rect x="455.5" y="206.4" width="18.6" height="18.5" fill="rgb(210,210,210)"/><rect x="492.5" y="206.4" width="18.6" height="18.5" fill="rgb(210,210,210)"/><rect x="511" y="206.4" width="18.6" height="18.5" fill="rgb(210,210,210)"/><rect x="363" y="224.9" width="18.6" height="18.5" fill="rgb(210,210,210)"/><rect x="381.5" y="224.9" width="18.6" height="18.5" fill="rgb(175,175,175)"/><rect x="418.5" y="224.9" width="18.6" height="18.5" fill="rgb(210,210,210)"/><rect x="455.5" y="224.9" width="18.6" height="18.5" fill="rgb(210,210,210)"/><rect x="622" y="224.9" width="18.6" height="18.5" fill="rgb(210,210,210)"/><rect x="640.5" y="224.9" width="18.6" height="18.5" fill="rgb(210,210,210)"/><rect x="455.5" y="243.3" width="18.6" height="18.5" fill="rgb(210,210,210)"/><rect x="474" y="243.3" width="18.6" height="18.5" fill="rgb(145,145,145)"/><rect x="585" y="243.3" width="18.6" height="18.5" fill="rgb(210,210,210)"/><rect x="455.5" y="261.8" width="18.6" height="18.5" fill="rgb(160,160,160)"/><rect x="474" y="261.8" width="18.6" height="18.5" fill="rgb(160,160,160)"/><rect x="511" y="261.8" width="18.6" height="18.5" fill="rgb(210,210,210)"/><rect x="529.5" y="261.8" width="18.6" height="18.5" fill="rgb(175,175,175)"/><rect x="548" y="261.8" width="18.6" height="18.5" fill="rgb(175,175,175)"/><rect x="622" y="261.8" width="18.6" height="18.5" fill="rgb(210,210,210)"/><rect x="640.5" y="261.8" width="18.6" height="18.5" fill="rgb(175,175,175)"/><rect x="511" y="280.2" width="18.6" height="18.5" fill="rgb(175,175,175)"/><rect x="529.5" y="280.2" width="18.6" height="18.5" fill="rgb(175,175,175)"/><rect x="548" y="280.2" width="18.6" height="18.5" fill="rgb(210,210,210)"/><rect x="603.5" y="280.2" width="18.6" height="18.5" fill="rgb(175,175,175)"/><rect x="622" y="280.2" width="18.6" height="18.5" fill="rgb(210,210,210)"/><rect x="418.5" y="298.6" width="18.6" height="18.5" fill="rgb(210,210,210)"/><rect x="455.5" y="298.6" width="18.6" height="18.5" fill="rgb(210,210,210)"/><rect x="474" y="298.6" width="18.6" height="18.5" fill="rgb(140,140,140)"/><rect x="529.5" y="298.6" width="18.6" height="18.5" fill="rgb(145,145,145)"/><rect x="566.5" y="298.6" width="18.6" height="18.5" fill="rgb(175,175,175)"/><rect x="585" y="298.6" width="18.6" height="18.5" fill="rgb(210,210,210)"/><rect x="603.5" y="298.6" width="18.6" height="18.5" fill="rgb(210,210,210)"/><rect x="622" y="298.6" width="18.6" height="18.5" fill="rgb(175,175,175)"/><rect x="640.5" y="298.6" width="18.6" height="18.5" fill="rgb(210,210,210)"/><rect x="418.5" y="317.1" width="18.6" height="18.5" fill="rgb(210,210,210)"/><rect x="455.5" y="317.1" width="18.6" height="18.5" fill="rgb(210,210,210)"/><rect x="474" y="317.1" width="18.6" height="18.5" fill="rgb(210,210,210)"/><rect x="492.5" y="317.1" width="18.6" height="18.5" fill="rgb(210,210,210)"/></g><g clip-path="url(#cr)" fill="none" stroke="#151515" stroke-width="1.05"><circle cx="389.1" cy="50.2" r="2.1"/><circle cx="387.8" cy="51.7" r="2.1"/><circle cx="403.1" cy="47.6" r="2.3"/><circle cx="374.7" cy="66.7" r="2.1"/><circle cx="412" cy="69.9" r="2.6"/><circle cx="406.9" cy="70.1" r="2.3"/><circle cx="401.5" cy="73.9" r="2.6"/><circle cx="422.1" cy="72.4" r="2.1"/><circle cx="419.8" cy="87" r="2.6"/><circle cx="422.8" cy="108" r="2.6"/><circle cx="436.1" cy="102" r="2.6"/><circle cx="368.1" cy="111.2" r="2.6"/><circle cx="384" cy="113.1" r="2.6"/><circle cx="436.5" cy="48.3" r="1.9"/><circle cx="438.9" cy="47.6" r="2.3"/><circle cx="453.5" cy="45.1" r="2.3"/><circle cx="451" cy="51.7" r="2.8"/><circle cx="458" cy="50.4" r="2.1"/><circle cx="468.8" cy="49.9" r="3.5"/><circle cx="462.4" cy="41.3" r="2.3"/><circle cx="463.7" cy="59.7" r="2.6"/><circle cx="475.8" cy="58.8" r="2.3"/><circle cx="458.9" cy="67.7" r="2.6"/><circle cx="480.9" cy="69.2" r="2.3"/><circle cx="497.4" cy="61.4" r="2.1"/><circle cx="466" cy="77.1" r="3.3"/><circle cx="506.9" cy="75.6" r="3.3"/><circle cx="486" cy="85.5" r="2.6"/><circle cx="492.9" cy="89" r="3"/><circle cx="492.3" cy="87.3" r="2.3"/><circle cx="508.8" cy="88.3" r="3"/><circle cx="444.4" cy="93.1" r="2.3"/><circle cx="491.4" cy="97.2" r="2.6"/><circle cx="500.6" cy="102" r="3.3"/><circle cx="509.5" cy="101" r="2.6"/><circle cx="438.9" cy="101.7" r="3"/><circle cx="451" cy="105.5" r="3.3"/><circle cx="467.5" cy="99.1" r="2.6"/><circle cx="460.5" cy="106.1" r="2.1"/><circle cx="464.3" cy="109.3" r="2.6"/><circle cx="466.9" cy="106.8" r="2.3"/><circle cx="470.1" cy="108.7" r="2.3"/><circle cx="487.9" cy="110.3" r="2.6"/><circle cx="493.6" cy="113.1" r="2.3"/><circle cx="508.2" cy="108.7" r="2.1"/><circle cx="514.8" cy="46.4" r="2.8"/><circle cx="521.2" cy="58.8" r="2.3"/><circle cx="528.8" cy="64.8" r="2.1"/><circle cx="529.8" cy="68.6" r="2.1"/><circle cx="560.6" cy="48.6" r="3.5"/><circle cx="563.1" cy="55.9" r="4.1"/><circle cx="551.7" cy="59.1" r="2.6"/><circle cx="556.8" cy="64.2" r="4.1"/><circle cx="572" cy="50.2" r="3"/><circle cx="573.3" cy="45.1" r="2.3"/><circle cx="570.1" cy="61.4" r="2.3"/><circle cx="580.9" cy="67.1" r="2.3"/><circle cx="563.1" cy="75" r="2.1"/><circle cx="560.6" cy="79.4" r="2.1"/><circle cx="545.3" cy="83.9" r="3.3"/><circle cx="511.6" cy="88.7" r="2.6"/><circle cx="529.4" cy="95.9" r="3.3"/><circle cx="533.9" cy="94" r="3"/><circle cx="540.9" cy="97" r="2.6"/><circle cx="553" cy="99.1" r="2.3"/><circle cx="568.9" cy="99.1" r="2.3"/><circle cx="557" cy="105.1" r="2.3"/><circle cx="511.6" cy="101.7" r="2.3"/><circle cx="522.4" cy="110.6" r="3"/><circle cx="528.2" cy="109.3" r="3.3"/><circle cx="537.7" cy="111.2" r="3.3"/><circle cx="541.5" cy="110.6" r="3"/><circle cx="587.5" cy="43.8" r="3.5"/><circle cx="588.8" cy="41.9" r="2.6"/><circle cx="598.4" cy="43.2" r="2.3"/><circle cx="611.7" cy="41.3" r="2.6"/><circle cx="628.2" cy="47.6" r="2.3"/><circle cx="642.9" cy="52.1" r="2.3"/><circle cx="611.1" cy="52.7" r="2.3"/><circle cx="625.1" cy="59.1" r="3.3"/><circle cx="624.4" cy="62.9" r="2.6"/><circle cx="613.6" cy="62.3" r="2.3"/><circle cx="641.6" cy="68" r="4.1"/><circle cx="588.8" cy="61" r="2.6"/><circle cx="593.9" cy="60.3" r="2.6"/><circle cx="597.7" cy="70.5" r="2.6"/><circle cx="616.2" cy="74.3" r="3.5"/><circle cx="620" cy="71.2" r="2.8"/><circle cx="624.4" cy="74.3" r="2.3"/><circle cx="621.2" cy="78.8" r="2.8"/><circle cx="621.9" cy="85.8" r="3.5"/><circle cx="621.2" cy="85.1" r="2.6"/><circle cx="632.7" cy="80.4" r="2.3"/><circle cx="600.9" cy="84.5" r="3.5"/><circle cx="605.3" cy="83.2" r="2.6"/><circle cx="586.3" cy="77.5" r="2.3"/><circle cx="588.8" cy="96.6" r="2.3"/><circle cx="599" cy="101.7" r="2.6"/><circle cx="597.7" cy="106.8" r="3.3"/><circle cx="608.9" cy="108" r="2.8"/><circle cx="619.1" cy="105.5" r="2.8"/><circle cx="634" cy="111.8" r="3"/><circle cx="373.2" cy="117.2" r="2.3"/><circle cx="384" cy="115" r="2.6"/><circle cx="419.6" cy="127.4" r="2.1"/><circle cx="420.9" cy="126.1" r="2.1"/><circle cx="434.2" cy="124.8" r="3.3"/><circle cx="427.8" cy="132.8" r="2.6"/><circle cx="432.7" cy="135" r="2.3"/><circle cx="435.5" cy="135.6" r="2.3"/><circle cx="380.2" cy="138.8" r="3.3"/><circle cx="385.9" cy="142.6" r="2.6"/><circle cx="389.1" cy="140.7" r="3.5"/><circle cx="398.6" cy="142.6" r="2.3"/><circle cx="406.9" cy="140.7" r="2.8"/><circle cx="367.5" cy="147.7" r="2.8"/><circle cx="364.9" cy="157" r="3"/><circle cx="371.9" cy="156" r="3.3"/><circle cx="380.8" cy="154.7" r="2.3"/><circle cx="385.3" cy="152.8" r="2.6"/><circle cx="389.1" cy="154.7" r="2.3"/><circle cx="397.3" cy="156" r="2.3"/><circle cx="384" cy="158.5" r="2.3"/><circle cx="387.8" cy="163.6" r="2.8"/><circle cx="382.1" cy="168.7" r="2.6"/><circle cx="382.7" cy="173.1" r="2.6"/><circle cx="397.3" cy="166.1" r="2.3"/><circle cx="418.9" cy="153.4" r="3"/><circle cx="422.8" cy="152.1" r="2.6"/><circle cx="427.8" cy="159.1" r="3.3"/><circle cx="418.9" cy="157.9" r="2.3"/><circle cx="425.9" cy="164.9" r="2.3"/><circle cx="368.7" cy="179.5" r="2.8"/><circle cx="379.5" cy="183.9" r="2.3"/><circle cx="384" cy="184.6" r="2.6"/><circle cx="398.6" cy="179.5" r="2.1"/><circle cx="436.1" cy="176" r="2.3"/><circle cx="413.9" cy="187.5" r="2.3"/><circle cx="444" cy="119.7" r="2.8"/><circle cx="440.2" cy="126.1" r="3"/><circle cx="447.2" cy="130.5" r="3.3"/><circle cx="438.9" cy="133.1" r="2.6"/><circle cx="444.6" cy="136.9" r="3"/><circle cx="437.6" cy="125.4" r="2.6"/><circle cx="466.9" cy="126.7" r="3.3"/><circle cx="465.6" cy="125.4" r="2.3"/><circle cx="474.5" cy="121.4" r="2.3"/><circle cx="459.9" cy="114.6" r="2.3"/><circle cx="481.5" cy="136.6" r="4.1"/><circle cx="468.2" cy="141.3" r="3.3"/><circle cx="466.9" cy="150" r="2.6"/><circle cx="474.9" cy="153.2" r="2.3"/><circle cx="473.9" cy="161" r="2.3"/><circle cx="473" cy="162.1" r="2.1"/><circle cx="454.8" cy="168.7" r="3.3"/><circle cx="459.9" cy="175.9" r="2.6"/><circle cx="438" cy="176.3" r="2.3"/><circle cx="478.3" cy="178.8" r="2.3"/><circle cx="472.6" cy="185.8" r="2.3"/><circle cx="496.1" cy="125.4" r="3.3"/><circle cx="497.4" cy="131.2" r="2.3"/><circle cx="507.9" cy="133.7" r="3"/><circle cx="496.1" cy="143.9" r="2.6"/><circle cx="501.2" cy="144.5" r="2.6"/><circle cx="506.9" cy="152.8" r="3.3"/><circle cx="493.6" cy="114.6" r="2.3"/><circle cx="515.5" cy="123.5" r="3.3"/><circle cx="527.5" cy="119.7" r="2.6"/><circle cx="523.7" cy="127.4" r="2.3"/><circle cx="522.4" cy="114.6" r="2.3"/><circle cx="535.2" cy="124.2" r="3.5"/><circle cx="538.3" cy="114.6" r="2.6"/><circle cx="540.9" cy="114.6" r="2.3"/><circle cx="557.4" cy="123.2" r="2.3"/><circle cx="581.6" cy="128.2" r="2.3"/><circle cx="548.5" cy="140.4" r="2.3"/><circle cx="522.4" cy="135" r="2.3"/><circle cx="513.5" cy="143.9" r="2.6"/><circle cx="518" cy="142.6" r="2.6"/><circle cx="518.6" cy="149" r="3"/><circle cx="511.6" cy="134.3" r="2.3"/><circle cx="513.5" cy="154.1" r="2.3"/><circle cx="515.5" cy="177.2" r="2.3"/><circle cx="584.5" cy="139.4" r="2.3"/><circle cx="614.2" cy="119.1" r="2.3"/><circle cx="613.6" cy="123.5" r="2.1"/><circle cx="634" cy="114.6" r="3"/><circle cx="591.4" cy="135" r="2.3"/><circle cx="586" cy="139.4" r="2.3"/><circle cx="413.9" cy="189.3" r="2.3"/><circle cx="384.6" cy="188" r="2.3"/><circle cx="389.1" cy="208.3" r="2.3"/><circle cx="370.6" cy="214.7" r="2.3"/><circle cx="378.5" cy="216" r="2.8"/><circle cx="392.9" cy="214.7" r="2.8"/><circle cx="405.6" cy="207.7" r="2.1"/><circle cx="404.3" cy="212.2" r="2.1"/><circle cx="409.4" cy="215" r="3"/><circle cx="379.5" cy="232.5" r="2.3"/><circle cx="398" cy="237" r="3.5"/><circle cx="430.4" cy="226.5" r="2.3"/><circle cx="445.3" cy="192.8" r="2.8"/><circle cx="452" cy="197.9" r="2.8"/><circle cx="463.7" cy="199.2" r="2.8"/><circle cx="466.9" cy="195" r="2.3"/><circle cx="470.7" cy="190.5" r="2.6"/><circle cx="477.4" cy="203.3" r="2.3"/><circle cx="441.8" cy="208.3" r="2.8"/><circle cx="459.9" cy="216" r="2.8"/><circle cx="498.4" cy="219.5" r="3"/><circle cx="472.9" cy="231.2" r="3.5"/><circle cx="479.6" cy="254.8" r="3"/><circle cx="481.5" cy="257.3" r="2.1"/><circle cx="491.7" cy="255.4" r="3"/><circle cx="499.6" cy="256.7" r="2.3"/><circle cx="517.4" cy="220.4" r="2.3"/><circle cx="630.5" cy="233.4" r="2.3"/><circle cx="641.8" cy="231.2" r="3.3"/><circle cx="588.2" cy="252.2" r="2.6"/><circle cx="425.3" cy="307.4" r="2.3"/><circle cx="421.5" cy="327.5" r="2.3"/><circle cx="461.8" cy="272.4" r="2.8"/><circle cx="456.1" cy="277.9" r="2.6"/><circle cx="476.2" cy="274.1" r="3.3"/><circle cx="490.4" cy="273.7" r="2.3"/><circle cx="510.1" cy="275.4" r="2.1"/><circle cx="480.2" cy="300.8" r="3.3"/><circle cx="472" cy="305.9" r="2.6"/><circle cx="492.6" cy="304.6" r="3.3"/><circle cx="489.8" cy="312.9" r="3.3"/><circle cx="473.2" cy="321.8" r="2.3"/><circle cx="488.9" cy="329.6" r="2.6"/><circle cx="510.1" cy="316.7" r="2.3"/><circle cx="511.6" cy="275.4" r="2.3"/><circle cx="532.9" cy="271.9" r="3.3"/><circle cx="540.9" cy="271.2" r="2.3"/><circle cx="558.7" cy="263.9" r="2.3"/><circle cx="558.7" cy="267.1" r="2.3"/><circle cx="544.1" cy="281.7" r="3.3"/><circle cx="540" cy="289.1" r="2.3"/><circle cx="521.8" cy="288.7" r="4.1"/><circle cx="529.8" cy="293.2" r="2.3"/><circle cx="552.1" cy="293.2" r="4.1"/><circle cx="532" cy="307.5" r="2.6"/><circle cx="538.3" cy="307.5" r="2.3"/><circle cx="573.7" cy="302.9" r="2.8"/><circle cx="572.4" cy="313.5" r="2.3"/><circle cx="511.6" cy="316.7" r="2.6"/><circle cx="634.2" cy="266.8" r="3.3"/><circle cx="650.5" cy="266.5" r="2.3"/><circle cx="657.5" cy="265.8" r="3"/><circle cx="607.9" cy="286.8" r="3.3"/><circle cx="637.8" cy="290.2" r="2.8"/><circle cx="625.4" cy="299.3" r="2.3"/><circle cx="639" cy="302.4" r="3.3"/><circle cx="647.7" cy="305.2" r="2.3"/><circle cx="603.4" cy="307.1" r="2.3"/><circle cx="620" cy="316" r="3.5"/></g><rect x="363.5" y="40.5" width="296" height="295" fill="none" stroke="#333" stroke-width="1"/><g font-family="Liberation Sans, sans-serif" font-style="italic" font-size="17" fill="#111"><text x="99.4" y="376.4" textLength="192.5" lengthAdjust="spacingAndGlyphs">Ternstroemia brasiliensis</text><text x="453.4" y="376.4" textLength="128.3" lengthAdjust="spacingAndGlyphs">Ocotea aciphylla</text></g><polygon points="90.3,466 113.6,468.5 137,469.1 160.3,469.5 183.7,470.6 207,470.4 230.4,470.4 253.7,470.4 277.1,470.4 300.4,470.4 300.4,479.5 277.1,479.5 253.7,479.5 230.4,479.5 207,479.5 183.7,479.6 160.3,480.2 137,480.4 113.6,480.5 90.3,482.2" fill="#e8e8e8" stroke="none"/><polyline points="90.3,466 113.6,468.5 137,469.1 160.3,469.5 183.7,470.6 207,470.4 230.4,470.4 253.7,470.4 277.1,470.4 300.4,470.4" fill="none" stroke="#222" stroke-width="1.2" stroke-dasharray="4.4,2.5"/><polyline points="90.3,475.4 113.6,475.4 137,475.4 160.3,475.4 183.7,475.4 207,475.4 230.4,475.4 253.7,475.4 277.1,475.4 300.4,475.4" fill="none" stroke="#222" stroke-width="1.2" stroke-dasharray="4.4,2.5"/><polyline points="90.3,482.2 113.6,480.5 137,480.4 160.3,480.2 183.7,479.6 207,479.5 230.4,479.5 253.7,479.5 277.1,479.5 300.4,479.5" fill="none" stroke="#222" stroke-width="1.2" stroke-dasharray="4.4,2.5"/><g stroke="#333" stroke-width="1" fill="none"><line x1="81.5" y1="407.2" x2="81.5" y2="507.5"/><line x1="74.5" y1="407.4" x2="81.5" y2="407.4"/><line x1="74.5" y1="440.8" x2="81.5" y2="440.8"/><line x1="74.5" y1="474.2" x2="81.5" y2="474.2"/><line x1="74.5" y1="507.6" x2="81.5" y2="507.6"/><line x1="90.3" y1="512.9" x2="300.4" y2="512.9"/><line x1="90.3" y1="512.9" x2="90.3" y2="519.5"/><line x1="137" y1="512.9" x2="137" y2="519.5"/><line x1="183.7" y1="512.9" x2="183.7" y2="519.5"/><line x1="230.4" y1="512.9" x2="230.4" y2="519.5"/><line x1="277.1" y1="512.9" x2="277.1" y2="519.5"/><line x1="300.4" y1="512.9" x2="300.4" y2="519.5"/></g><g font-family="Liberation Sans, sans-serif" font-size="11" fill="#333" text-anchor="middle"><text transform="translate(67.2,408.2) rotate(-90)" x="0" y="0">0.50</text><text transform="translate(67.2,441.6) rotate(-90)" x="0" y="0">0.25</text><text transform="translate(67.2,475) rotate(-90)" x="0" y="0">0.00</text><text transform="translate(67.2,508.4) rotate(-90)" x="0" y="0">-0.25</text><text transform="translate(39.7,451) rotate(-90)" font-size="11.3">Moran's Index</text><text x="90.3" y="538.9" textLength="11" lengthAdjust="spacingAndGlyphs">20</text><text x="137" y="538.9" textLength="11" lengthAdjust="spacingAndGlyphs">60</text><text x="183.7" y="538.9" textLength="16.5" lengthAdjust="spacingAndGlyphs">100</text><text x="230.4" y="538.9" textLength="16.5" lengthAdjust="spacingAndGlyphs">140</text><text x="277.1" y="538.9" textLength="16.5" lengthAdjust="spacingAndGlyphs">180</text><text x="195" y="565.7" font-size="11.6" textLength="62.8" lengthAdjust="spacingAndGlyphs">Distance (m)</text></g><g fill="none" stroke="#222" stroke-width="1.1"><circle cx="90.3" cy="411.3" r="2.6"/><circle cx="90.3" cy="411.3" r="0.6" fill="#222"/><circle cx="113.6" cy="443.7" r="2.6"/><circle cx="113.6" cy="443.7" r="0.6" fill="#222"/><circle cx="137" cy="465.7" r="2.6"/><circle cx="137" cy="465.7" r="0.6" fill="#222"/><circle cx="160.3" cy="477.9" r="2.6"/><circle cx="183.7" cy="487.3" r="2.6"/><circle cx="183.7" cy="487.3" r="0.6" fill="#222"/><circle cx="207" cy="491.6" r="2.6"/><circle cx="207" cy="491.6" r="0.6" fill="#222"/><circle cx="230.4" cy="494" r="2.6"/><circle cx="230.4" cy="494" r="0.6" fill="#222"/><circle cx="253.7" cy="486.6" r="2.6"/><circle cx="253.7" cy="486.6" r="0.6" fill="#222"/><circle cx="277.1" cy="479.7" r="2.6"/><circle cx="277.1" cy="479.7" r="0.6" fill="#222"/><circle cx="300.4" cy="470.4" r="2.6"/></g><polygon points="412.9,466 436.2,468.4 459.6,469 482.9,469.6 506.3,469.8 529.6,470.6 553,470.4 576.3,470.4 599.7,470.4 623,470.4 623,479.5 599.7,479.5 576.3,479.5 553,479.5 529.6,479.5 506.3,479.7 482.9,479.8 459.6,480.8 436.2,481.4 412.9,483" fill="#e8e8e8" stroke="none"/><polyline points="412.9,466 436.2,468.4 459.6,469 482.9,469.6 506.3,469.8 529.6,470.6 553,470.4 576.3,470.4 599.7,470.4 623,470.4" fill="none" stroke="#222" stroke-width="1.2" stroke-dasharray="4.4,2.5"/><polyline points="412.9,475.4 436.2,475.4 459.6,475.4 482.9,475.4 506.3,475.4 529.6,475.4 553,475.4 576.3,475.4 599.7,475.4 623,475.4" fill="none" stroke="#222" stroke-width="1.2" stroke-dasharray="4.4,2.5"/><polyline points="412.9,483 436.2,481.4 459.6,480.8 482.9,479.8 506.3,479.7 529.6,479.5 553,479.5 576.3,479.5 599.7,479.5 623,479.5" fill="none" stroke="#222" stroke-width="1.2" stroke-dasharray="4.4,2.5"/><g stroke="#333" stroke-width="1" fill="none"><line x1="404.1" y1="407.2" x2="404.1" y2="507.5"/><line x1="397.1" y1="407.4" x2="404.1" y2="407.4"/><line x1="397.1" y1="440.8" x2="404.1" y2="440.8"/><line x1="397.1" y1="474.2" x2="404.1" y2="474.2"/><line x1="397.1" y1="507.6" x2="404.1" y2="507.6"/><line x1="412.9" y1="512.9" x2="623" y2="512.9"/><line x1="412.9" y1="512.9" x2="412.9" y2="519.5"/><line x1="459.6" y1="512.9" x2="459.6" y2="519.5"/><line x1="506.3" y1="512.9" x2="506.3" y2="519.5"/><line x1="553" y1="512.9" x2="553" y2="519.5"/><line x1="599.7" y1="512.9" x2="599.7" y2="519.5"/><line x1="623" y1="512.9" x2="623" y2="519.5"/></g><g font-family="Liberation Sans, sans-serif" font-size="11" fill="#333" text-anchor="middle"><text transform="translate(389.8,408.2) rotate(-90)" x="0" y="0">0.50</text><text transform="translate(389.8,441.6) rotate(-90)" x="0" y="0">0.25</text><text transform="translate(389.8,475) rotate(-90)" x="0" y="0">0.00</text><text transform="translate(389.8,508.4) rotate(-90)" x="0" y="0">-0.25</text><text transform="translate(362.3,451) rotate(-90)" font-size="11.3">Moran's Index</text><text x="412.9" y="538.9" textLength="11" lengthAdjust="spacingAndGlyphs">20</text><text x="459.6" y="538.9" textLength="11" lengthAdjust="spacingAndGlyphs">60</text><text x="506.3" y="538.9" textLength="16.5" lengthAdjust="spacingAndGlyphs">100</text><text x="553" y="538.9" textLength="16.5" lengthAdjust="spacingAndGlyphs">140</text><text x="599.7" y="538.9" textLength="16.5" lengthAdjust="spacingAndGlyphs">180</text><text x="517.6" y="565.7" font-size="11.6" textLength="62.8" lengthAdjust="spacingAndGlyphs">Distance (m)</text></g><g fill="none" stroke="#222" stroke-width="1.1"><circle cx="412.9" cy="435.1" r="2.6"/><circle cx="412.9" cy="435.1" r="0.6" fill="#222"/><circle cx="436.2" cy="446.2" r="2.6"/><circle cx="436.2" cy="446.2" r="0.6" fill="#222"/><circle cx="459.6" cy="454.8" r="2.6"/><circle cx="459.6" cy="454.8" r="0.6" fill="#222"/><circle cx="482.9" cy="460" r="2.6"/><circle cx="482.9" cy="460" r="0.6" fill="#222"/><circle cx="506.3" cy="470.3" r="2.6"/><circle cx="529.6" cy="478" r="2.6"/><circle cx="553" cy="476.4" r="2.6"/><circle cx="576.3" cy="484" r="2.6"/><circle cx="576.3" cy="484" r="0.6" fill="#222"/><circle cx="599.7" cy="481.9" r="2.6"/><circle cx="599.7" cy="481.9" r="0.6" fill="#222"/><circle cx="623" cy="484.6" r="2.6"/><circle cx="623" cy="484.6" r="0.6" fill="#222"/></g></svg></body></html>
